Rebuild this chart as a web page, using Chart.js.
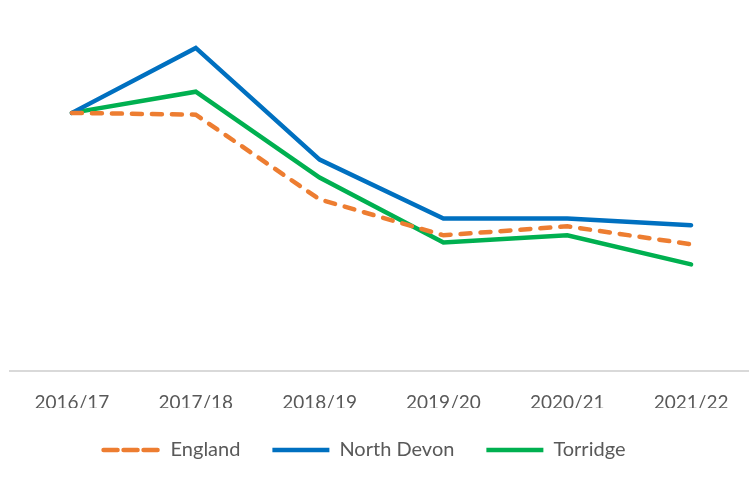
<!DOCTYPE html>
<html>
<head>
<meta charset="utf-8">
<script src="https://cdn.jsdelivr.net/npm/chart.js@4/dist/chart.umd.min.js"></script>
<style>
    body { margin: 0; background: #fff; overflow: hidden; }
    #wrap { position: relative; width: 753px; height: 477px; }
</style>
</head>
<body>
<div id="wrap"><canvas id="lineChart"></canvas></div>
<script>
// jaren op de x-as
var years = ['2016/17', '2017/18', '2018/19', '2019/20', '2020/21', '2021/22'];

// waarden (geen y-as zichtbaar, relatieve schaal)
var england = [71.9, 71.4, 47.8, 37.8, 40.3, 35.3];
var northDevon = [71.9, 90.0, 58.9, 42.5, 42.5, 40.6];
var torridge = [71.9, 77.8, 53.9, 35.8, 37.8, 29.7];

var fontFamily = 'Lato, "Open Sans", sans-serif';
var textColor = '#595959';

// legenda iets naar links schuiven, zoals in het origineel
var legendShift = {
    id: 'legendShift',
    afterLayout: function(chart) {
        chart.legend.left -= 17;
        chart.legend.right -= 17;
    }
};

var ctx = document.getElementById('lineChart').getContext('2d');
var chart = new Chart(ctx, {
    type: 'line',
    data: {
        labels: years,
        datasets: [{
            label: 'England',
            data: england,
            borderColor: '#ED7D31',
            backgroundColor: '#ED7D31',
            borderWidth: 4.5,
            borderDash: [10, 10],
            borderCapStyle: 'round',
            pointRadius: 0,
            fill: false,
            tension: 0
        }, {
            label: 'North Devon',
            data: northDevon,
            borderColor: '#0070C0',
            backgroundColor: '#0070C0',
            borderWidth: 4.5,
            borderCapStyle: 'round',
            pointRadius: 0,
            fill: false,
            tension: 0
        }, {
            label: 'Torridge',
            data: torridge,
            borderColor: '#00B050',
            backgroundColor: '#00B050',
            borderWidth: 4.5,
            borderCapStyle: 'round',
            pointRadius: 0,
            fill: false,
            tension: 0
        }]
    },
    plugins: [legendShift],
    options: {
        responsive: true,
        maintainAspectRatio: false,
        animation: false,
        layout: {
            padding: { top: 12, left: 10, right: 0, bottom: 7 }
        },
        plugins: {
            tooltip: { enabled: false },
            legend: {
                position: 'bottom',
                labels: {
                    boxWidth: 57,
                    boxHeight: 0,
                    padding: 32,
                    color: textColor,
                    font: { family: fontFamily, size: 20 }
                }
            }
        },
        scales: {
            x: {
                offset: true,
                grid: { display: false, drawTicks: false },
                border: { display: true, color: '#D9D9D9', width: 2 },
                ticks: {
                    color: textColor,
                    padding: 22,
                    font: { family: fontFamily, size: 19, lineHeight: 1 }
                },
                afterFit: function(scale) {
                    // ruimte tussen labels en legenda kleiner maken
                    scale.height -= 26;
                }
            },
            y: {
                display: false,
                min: 0,
                max: 100
            }
        }
    }
});
</script>
</body>
</html>
